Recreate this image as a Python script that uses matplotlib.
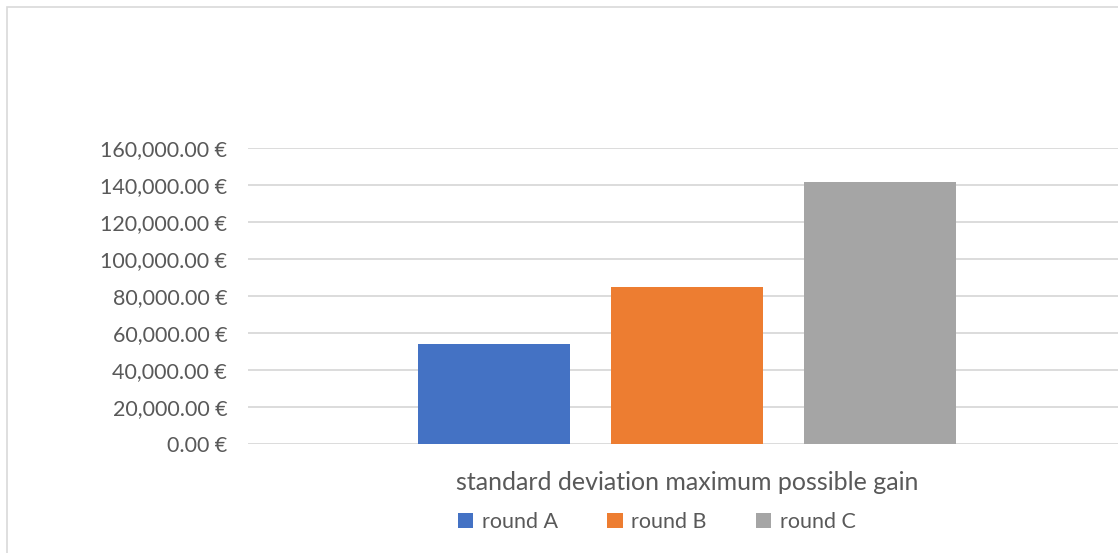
import matplotlib
matplotlib.use('Agg')
import matplotlib.pyplot as plt
from matplotlib.ticker import FuncFormatter
from matplotlib.patches import Patch, Rectangle

# data
category = 'standard deviation maximum possible gain'
series = ['round A', 'round B', 'round C']
values = [54000, 85000, 141600]
colors = ['#4472C4', '#ED7D31', '#A5A5A5']

plt.rcParams['font.family'] = ['Lato', 'DejaVu Sans']
txt = '#595959'

W, H = 1118, 553
fig = plt.figure(figsize=(W / 100, H / 100), dpi=100)

# chart border (light grey frame)
fig.patches.append(Rectangle((7 / W, -0.05), 1.2, 1 - 7 / H + 0.05, transform=fig.transFigure,
                             fill=False, edgecolor='#D9D9D9', linewidth=1.2))

left, right = 248, 1126
top, bottom = 148.3, 444.3
ax = fig.add_axes([left / W, 1 - bottom / H, (right - left) / W, (bottom - top) / H])

pos = [-1, 0, 1]
for p, v, c, s in zip(pos, values, colors, series):
    ax.bar(p, v, width=0.79, color=c, label=s, zorder=3)

ax.set_ylim(0, 160000)
ax.set_xlim(-2.275, 2.275)
ax.set_yticks(range(0, 160001, 20000))
ax.yaxis.set_major_formatter(FuncFormatter(lambda v, _: '{:,.2f} €'.format(v)))
ax.grid(axis='y', color='#D9D9D9', linewidth=1.3, zorder=0)
for sp in ax.spines.values():
    sp.set_visible(False)
ax.tick_params(axis='y', length=0, pad=15, labelsize=15.5, labelcolor=txt)
ax.set_xticks([0])
ax.set_xticklabels([category])
ax.tick_params(axis='x', length=0, pad=19, labelsize=18, labelcolor=txt)

handles = [Patch(facecolor=c, label=s) for c, s in zip(colors, series)]
fig.legend(handles=handles, loc='center', bbox_to_anchor=(657 / W, 1 - 522 / H), ncol=3,
           frameon=False, fontsize=15.5, labelcolor=txt, handlelength=0.7, handleheight=0.7,
           handletextpad=0.4, columnspacing=2.3)

fig.savefig('out.png', dpi=100)
